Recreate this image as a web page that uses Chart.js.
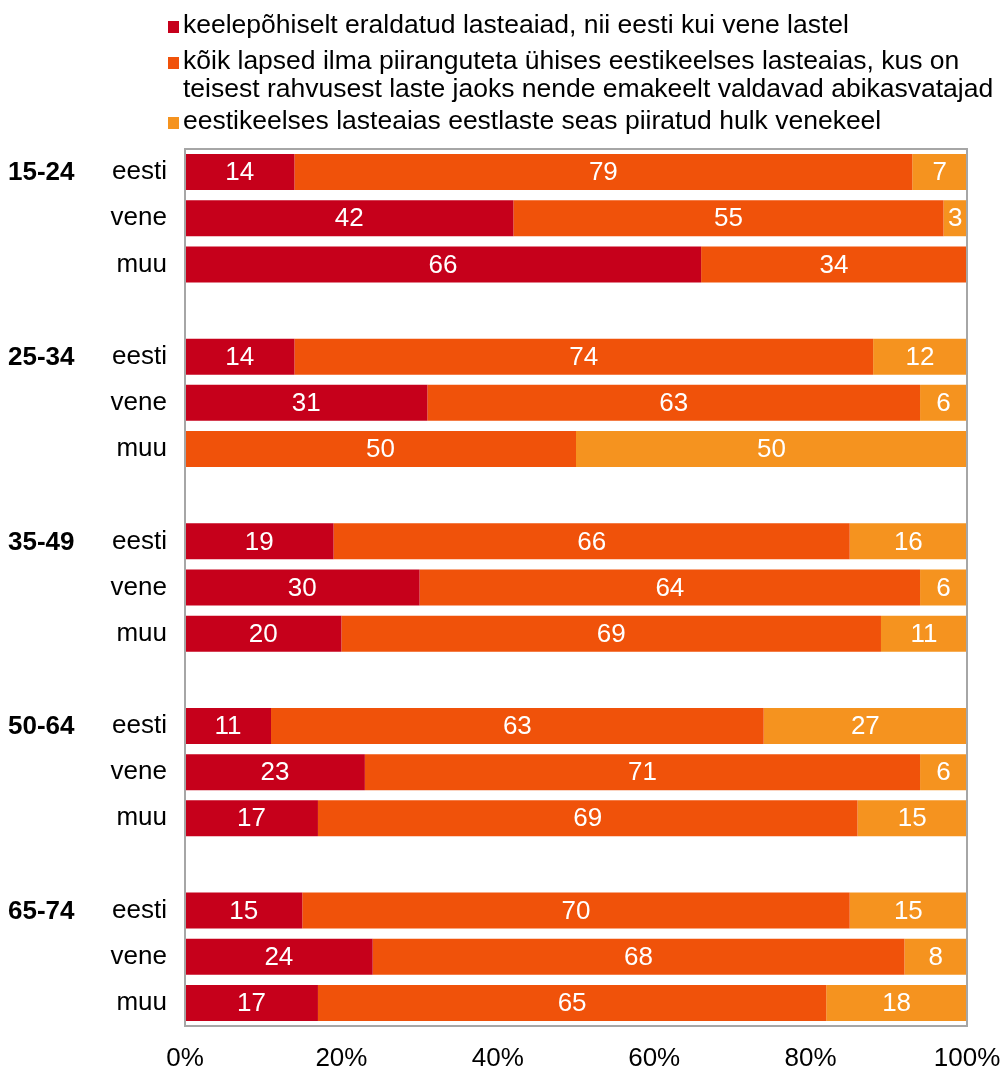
<!DOCTYPE html>
<html>
<head>
<meta charset="utf-8">
<script src="https://cdn.jsdelivr.net/npm/chart.js@4.4.1/dist/chart.umd.min.js"></script>
<style>
    html, body { margin: 0; padding: 0; background: #fff; }
    #wrap { width: 1003px; height: 1070px; position: relative; }
</style>
</head>
<body>
<div id="wrap"><canvas id="kg-chart"></canvas></div>
<script>
// Age groups and the three respondent language rows inside each group
const ageGroups = ['15-24', '25-34', '35-49', '50-64', '65-74'];
const rowLabels = ['eesti', 'vene', 'muu'];

// Answer options (legend)
const seriesNames = [
    'keelepõhiselt eraldatud lasteaiad, nii eesti kui vene lastel',
    'kõik lapsed ilma piiranguteta ühises eestikeelses lasteaias, kus on|teisest rahvusest laste jaoks nende emakeelt valdavad abikasvatajad',
    'eestikeelses lasteaias eestlaste seas piiratud hulk venekeel'
];
const seriesColors = ['#c6001b', '#f0520a', '#f5931f'];

// Shares in %, one value per row: eesti, vene, muu for each age group
const separate = [14, 42, 66,  14, 31, 0,  19, 30, 20,  11, 23, 17,  15, 24, 17];
const common   = [79, 55, 34,  74, 63, 50, 66, 64, 69,  63, 71, 69,  70, 68, 65];
const limited  = [7, 3, 0,     12, 6, 50,  16, 6, 11,   27, 6, 15,   15, 8, 18];

const xTicks = [0, 20, 40, 60, 80, 100];

const FONT = '"Liberation Sans", Arial, sans-serif';

// Build category axis with an empty slot between age groups
const labels = [];
const groupStart = [];
function spread(values) {
    const out = [];
    ageGroups.forEach((g, gi) => {
        if (gi > 0) out.push(null);
        rowLabels.forEach((r, ri) => out.push(values[gi * 3 + ri] || null));
    });
    return out;
}
ageGroups.forEach((g, gi) => {
    if (gi > 0) labels.push('');
    groupStart.push(labels.length);
    rowLabels.forEach(r => labels.push(r));
});

const datasets = [separate, common, limited].map((vals, i) => ({
    label: seriesNames[i],
    data: spread(vals),
    backgroundColor: seriesColors[i],
    borderWidth: 0,
    barPercentage: 0.78,
    categoryPercentage: 1
}));

// Value labels centred in each segment
const segmentLabels = {
    id: 'segmentLabels',
    afterDatasetsDraw(chart) {
        const ctx = chart.ctx;
        ctx.save();
        ctx.font = '26px ' + FONT;
        ctx.fillStyle = '#fff';
        ctx.textAlign = 'center';
        ctx.textBaseline = 'middle';
        chart.data.datasets.forEach((ds, di) => {
            chart.getDatasetMeta(di).data.forEach((bar, i) => {
                const v = ds.data[i];
                if (!v) return;
                const left = Math.min(bar.x, bar.base);
                const right = Math.min(Math.max(bar.x, bar.base), chart.chartArea.right);
                ctx.fillText(String(v), (left + right) / 2, bar.y + 1);
            });
        });
        ctx.restore();
    }
};

// Frame, bold age group labels and the stacked legend
const decorations = {
    id: 'decorations',
    afterDraw(chart) {
        const ctx = chart.ctx;
        const a = chart.chartArea;
        const yScale = chart.scales.y;
        ctx.save();
        ctx.strokeStyle = '#a6a6a6';
        ctx.lineWidth = 2;
        ctx.strokeRect(a.left, a.top, a.right - a.left, a.bottom - a.top);

        ctx.fillStyle = '#000';
        ctx.font = 'bold 26px ' + FONT;
        ctx.textAlign = 'left';
        ctx.textBaseline = 'middle';
        ageGroups.forEach((g, gi) => {
            ctx.fillText(g, 8, yScale.getPixelForValue(groupStart[gi]) + 1);
        });

        ctx.font = '26.5px ' + FONT;
        const lineY = [[26], [62, 90], [122]];
        seriesNames.forEach((name, i) => {
            ctx.fillStyle = seriesColors[i];
            ctx.fillRect(168, lineY[i][0] - 5, 11, 12);
            ctx.fillStyle = '#000';
            name.split('|').forEach((line, li) => {
                ctx.fillText(line, 183, lineY[i][li]);
            });
        });
        ctx.restore();
    }
};

new Chart(document.getElementById('kg-chart'), {
    type: 'bar',
    data: { labels, datasets },
    options: {
        indexAxis: 'y',
        responsive: true,
        maintainAspectRatio: false,
        animation: false,
        layout: { padding: { top: 149, right: 36, left: 0, bottom: 0 } },
        plugins: {
            legend: { display: false },
            tooltip: { enabled: false }
        },
        scales: {
            x: {
                stacked: true,
                min: 0,
                max: 100,
                afterBuildTicks: s => { s.ticks = xTicks.map(v => ({ value: v })); },
                afterFit: s => {
                    s.height = 44;
                    s.paddingLeft = 0;
                    s.paddingRight = 0;
                },
                grid: { display: false, drawTicks: false },
                border: { display: false },
                ticks: {
                    padding: 17,
                    color: '#000',
                    maxRotation: 0,
                    font: { family: FONT, size: 26 },
                    callback: v => v + '%'
                }
            },
            y: {
                stacked: true,
                afterFit: s => { s.width = 185; },
                grid: { display: false, drawTicks: false },
                border: { display: false },
                ticks: {
                    padding: 18,
                    color: '#000',
                    autoSkip: false,
                    font: { family: FONT, size: 26 }
                }
            }
        }
    },
    plugins: [segmentLabels, decorations]
});
</script>
</body>
</html>
